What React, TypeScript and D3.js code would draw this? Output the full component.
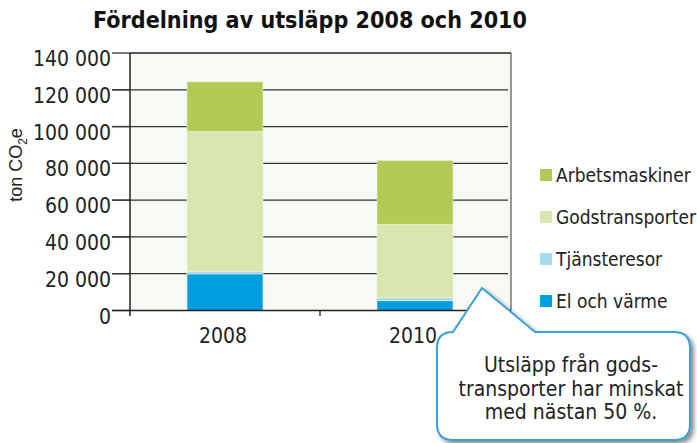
import React from 'react';
import * as d3 from 'd3';

const years = ['2008', '2010'];
const series = ['El och värme', 'Tjänsteresor', 'Godstransporter', 'Arbetsmaskiner'];
const elVarme = [19900, 5300];
const tjansteresor = [1200, 1700];
const godstransporter = [76300, 39900];
const arbetsmaskiner = [26900, 34700];
const yTicks = [0, 20000, 40000, 60000, 80000, 100000, 120000, 140000];
const colors = ['#009ee0', '#a6daf3', '#d9e6b0', '#b0ca54'];
const calloutLines = ['Utsläpp från gods-', 'transporter har minskat', 'med nästan 50 %.'];

const FONT = "'Liberation Sans Narrow', 'DejaVu Sans Condensed', Roboto, sans-serif";

export default function App() {
  const width = 697;
  const height = 443;
  const left = 130;
  const right = 511;
  const top = 53;
  const bottom = 310.5;

  const x = d3.scaleBand().domain(years).range([left, right - 1]).padding(0);
  const y = d3.scaleLinear().domain([0, 140000]).range([bottom, top]);

  const rows = years.map((yr, i) => ({
    year: yr,
    'El och värme': elVarme[i],
    Tjänsteresor: tjansteresor[i],
    Godstransporter: godstransporter[i],
    Arbetsmaskiner: arbetsmaskiner[i],
  }));
  const stacked = d3.stack<any>().keys(series)(rows);
  const barW = x.bandwidth() * 0.4;
  const fmt = (v: number) => d3.format(',')(v).replace(/,/g, ' ');

  // callout bubble
  const bx0 = 437, bx1 = 690, by0 = 332, by1 = 440, r = 16;
  const tip: [number, number] = [482, 288];
  const bubble = `M${bx0},${by1 - r} L${bx0},${by0 + r} Q${bx0},${by0} ${bx0 + r},${by0}
    L${tip[0]},${tip[1]} L535,${by0} L${bx1 - r},${by0} Q${bx1},${by0} ${bx1},${by0 + r}
    L${bx1},${by1 - r} Q${bx1},${by1} ${bx1 - r},${by1} L${bx0 + r},${by1} Q${bx0},${by1} ${bx0},${by1 - r} Z`;

  return (
    <svg width={width} height={height} style={{ position: 'absolute', left: 0, top: 0 }} fontFamily={FONT}>
      <defs>
        <filter id="sh" x="-10%" y="-10%" width="130%" height="130%">
          <feDropShadow dx="3" dy="3" stdDeviation="2" floodColor="#000" floodOpacity="0.45" />
        </filter>
      </defs>
      <rect width={width} height={height} fill="#fff" />
      <text x={310} y={28} textAnchor="middle" fontFamily="'DejaVu Sans Condensed', Roboto, sans-serif" fontWeight="bold" fontSize={23}
        textLength={434} lengthAdjust="spacingAndGlyphs" fill="#111">
        Fördelning av utsläpp 2008 och 2010
      </text>

      {/* plot background */}
      <rect x={left} y={top} width={right - left} height={bottom - top} fill="#f8f8f4" />

      {/* gridlines and ticks */}
      {yTicks.map(t => (
        <g key={t}>
          {t > 0 && t < 140000 && (
            <line x1={112} x2={right - 3} y1={y(t)} y2={y(t)} stroke="#333" strokeWidth={1.3} />
          )}
          <line x1={112} x2={left} y1={y(t)} y2={y(t)} stroke="#333" strokeWidth={1.3} />
          <text x={111} y={y(t) + 13} textAnchor="end" fontSize={21} fill="#222">
            {fmt(t)}
          </text>
        </g>
      ))}

      {/* bars */}
      {stacked.map((s, si) => (
        <g key={s.key} fill={colors[si]}>
          {s.map((d, i) => (
            <rect
              key={i}
              x={(x(years[i]) as number) + (x.bandwidth() - barW) / 2}
              y={y(d[1])}
              width={barW}
              height={y(d[0]) - y(d[1])}
              stroke="#eef3de"
              strokeWidth={0.6}
            />
          ))}
        </g>
      ))}

      {/* frame */}
      <line x1={left} x2={right} y1={top} y2={top} stroke="#222" strokeWidth={1.5} />
      <line x1={right} x2={right} y1={top} y2={bottom} stroke="#555" strokeWidth={1.2} />
      <line x1={112} x2={right} y1={bottom} y2={bottom} stroke="#222" strokeWidth={1.5} />
      <line x1={left} x2={left} y1={top} y2={316} stroke="#222" strokeWidth={1.5} />
      <line x1={x('2010')} x2={x('2010')} y1={bottom} y2={316} stroke="#222" strokeWidth={1.3} />

      {/* x labels */}
      {years.map(yr => (
        <text key={yr} x={(x(yr) as number) + x.bandwidth() / 2 - 2} y={343} textAnchor="middle" fontSize={21} fill="#222">
          {yr}
        </text>
      ))}

      {/* y title */}
      <text transform="translate(22,165) rotate(-90)" textAnchor="middle" fontFamily="'Liberation Sans', Arial, sans-serif" fontSize={18} fill="#222">
        ton CO<tspan fontSize={12} dy={5}>2</tspan><tspan dy={-5}>e</tspan>
      </text>

      {/* legend */}
      {series.slice().reverse().map((s, i) => (
        <g key={s} transform={`translate(540,${169 + i * 42})`}>
          <rect width={12} height={12} fill={colors[series.length - 1 - i]} />
          <text x={16} y={12.5} fontSize={19} fill="#222">{s}</text>
        </g>
      ))}

      {/* callout */}
      <path d={bubble} fill="#fff" stroke="#3aa0d8" strokeWidth={2} filter="url(#sh)" />
      {calloutLines.map((l, i) => (
        <text key={i} x={571} y={372 + i * 23.5} textAnchor="middle" fontSize={21} fill="#222">
          {l}
        </text>
      ))}
    </svg>
  );
}
